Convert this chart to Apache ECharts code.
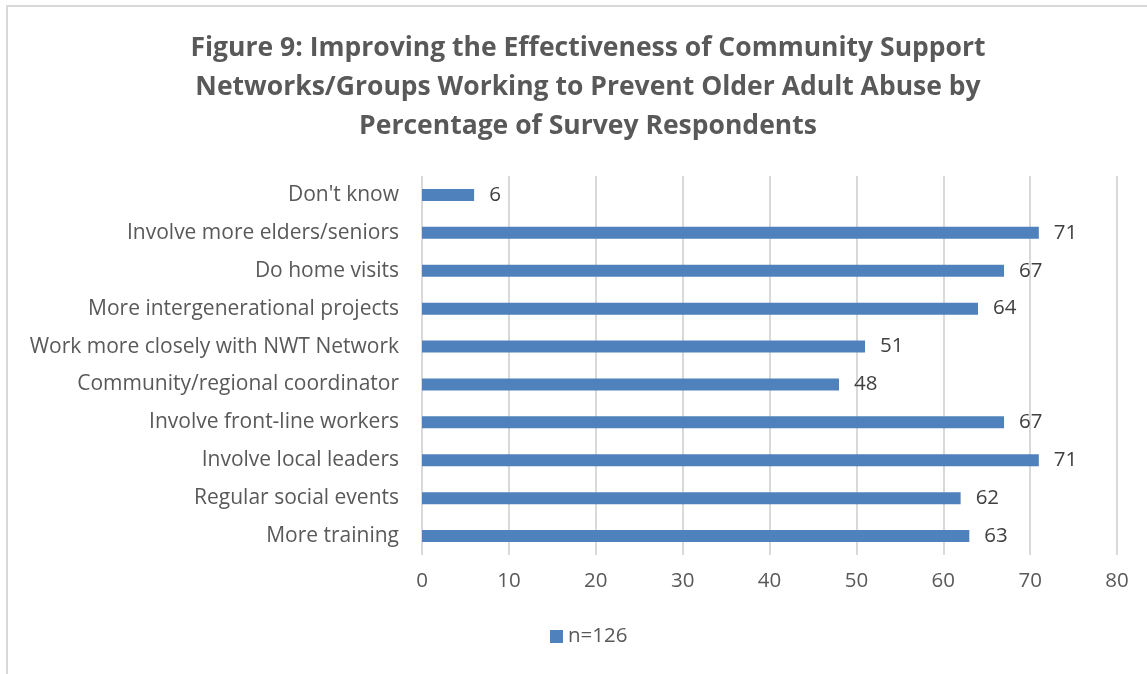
<!DOCTYPE html>
<html><head><meta charset="utf-8">
<script src="https://cdn.jsdelivr.net/npm/echarts@6/dist/echarts.min.js"></script>
<style>
html,body{margin:0;padding:0;background:#fff;}
#frame{position:absolute;left:6px;top:5px;width:1160px;height:700px;border:2px solid #d9d9d9;box-sizing:border-box;}
#chart{position:absolute;left:0;top:0;width:1147px;height:674px;}
</style></head>
<body><div id="frame"></div><div id="chart"></div>
<script>
const categories = ["More training","Regular social events","Involve local leaders","Involve front-line workers","Community/regional coordinator","Work more closely with NWT Network","More intergenerational projects","Do home visits","Involve more elders/seniors","Don't know"];
const values = [63,62,71,67,48,51,64,67,71,6];
const seriesName = "n=126";
const titleText = "Figure 9: Improving the Effectiveness of Community Support\nNetworks/Groups Working to Prevent Older Adult Abuse by\nPercentage of Survey Respondents";
const chart = echarts.init(document.getElementById('chart'));
const font = "'Open Sans', sans-serif";
chart.setOption({
  animation:false,
  title:{text:titleText,left:583,textAlign:'center',top:24,textStyle:{fontFamily:font,fontSize:26.5,fontWeight:'bold',color:'#595959',lineHeight:39}},
  legend:{bottom:22,left:545,icon:'rect',itemWidth:13,itemHeight:13,itemGap:7,textStyle:{fontFamily:font,fontSize:20.5,color:'#595959'},data:[seriesName]},
  grid:{left:422,right:30,top:176,bottom:119,containLabel:false},
  xAxis:{type:'value',min:0,max:80,interval:10,axisLine:{show:false},axisTick:{show:false},
    splitLine:{lineStyle:{color:'#d9d9d9',width:2}},
    axisLabel:{fontFamily:font,fontSize:20.5,color:'#595959',margin:16}},
  yAxis:{type:'category',data:categories,axisLine:{show:false},axisTick:{show:false},
    axisLabel:{fontFamily:font,fontSize:21,color:'#595959',margin:23}},
  series:[{name:seriesName,type:'bar',data:values,barWidth:12,itemStyle:{color:'#4F81BD'},
    label:{show:true,position:'right',distance:15,fontFamily:font,fontSize:20.5,color:'#404040'}}]
});
</script></body></html>
